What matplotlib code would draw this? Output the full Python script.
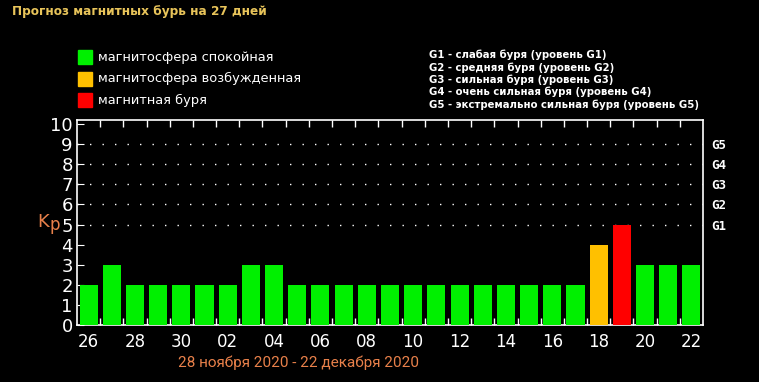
import matplotlib
matplotlib.use("Agg")
import matplotlib.pyplot as plt
import numpy as np

days = ["26", "27", "28", "29", "30", "01", "02", "03", "04", "05", "06", "07", "08", "09",
        "10", "11", "12", "13", "14", "15", "16", "17", "18", "19", "20", "21", "22"]
kp = [2, 3, 2, 2, 2, 2, 2, 3, 3, 2, 2, 2, 2, 2, 2, 2, 2, 2, 2, 2, 2, 2, 4, 5, 3, 3, 3]
g_levels = ["G1", "G2", "G3", "G4", "G5"]
g_texts = ["G1 - слабая буря (уровень G1)",
           "G2 - средняя буря (уровень G2)",
           "G3 - сильная буря (уровень G3)",
           "G4 - очень сильная буря (уровень G4)",
           "G5 - экстремально сильная буря (уровень G5)"]
legend_labels = ["магнитосфера спокойная", "магнитосфера возбужденная", "магнитная буря"]

green, orange, red = "#00f000", "#ffc000", "#ff0000"
legend_colors = [green, orange, red]

def bar_color(v):
    if v >= 5:
        return red
    if v == 4:
        return orange
    return green

fig = plt.figure(figsize=(7.59, 3.82), dpi=100, facecolor="black")
ax = fig.add_axes([77 / 759, 57 / 382, 626 / 759, 205 / 382])
ax.set_facecolor("black")

x = np.arange(len(kp))
ax.bar(x, kp, width=0.78, color=[bar_color(v) for v in kp], zorder=3)
ax.set_xlim(-0.5, len(kp) - 0.5)
ax.set_ylim(0, 10.2)

for s in ax.spines.values():
    s.set_color("white")
    s.set_linewidth(1.2)

# dotted grid at storm levels
for lev in range(5, 10):
    ax.axhline(lev, color="white", linestyle=(0, (1, 8)), linewidth=1, zorder=1)

ax.set_xticks(x[::2])
ax.set_xticklabels(days[::2], color="white", fontsize=12)
ax.set_xticks(np.arange(0.5, len(kp) - 1, 1), minor=True)
ax.tick_params(axis="x", which="major", length=0, pad=6)
ax.tick_params(axis="x", which="minor", direction="in", length=5, color="white",
               top=True, bottom=True, width=1)

ax.set_yticks(range(0, 11))
ax.set_yticklabels([str(i) for i in range(0, 11)], color="white", fontsize=13)
ax.tick_params(axis="y", which="major", length=0, pad=3)
ax.tick_params(axis="y", right=True, direction="in", length=5, color="white")

ax2 = ax.twinx()
ax2.set_ylim(ax.get_ylim())
ax2.set_yticks(range(5, 10))
ax2.set_yticklabels(g_levels, color="white", fontsize=9, fontweight="bold",
                    family="DejaVu Sans Mono")
ax2.tick_params(axis="y", length=0, pad=6)
for s in ax2.spines.values():
    s.set_visible(False)

fig.text(12 / 759, 1 - 12 / 382, "Прогноз магнитных бурь на 27 дней", color="#e8c45a",
         fontsize=8.7, fontweight="bold", va="center", ha="left")

for i, (lab, col) in enumerate(zip(legend_labels, legend_colors)):
    yc = 57 + i * 21.5
    fig.patches.append(plt.Rectangle((78 / 759, 1 - (yc + 7) / 382), 14 / 759, 14 / 382,
                                     transform=fig.transFigure, color=col))
    fig.text(98 / 759, 1 - yc / 382, lab, color="white", fontsize=9.4,
             va="center", ha="left")

for i, t in enumerate(g_texts):
    fig.text(429 / 759, 1 - (55 + i * 12.4) / 382, t, color="white", fontsize=7.3,
             fontweight="bold", va="center", ha="left")

fig.text(37 / 759, 1 - 222 / 382, "K", color="#e8804a", fontsize=13, va="center", ha="left")
fig.text(49 / 759, 1 - 225 / 382, "p", color="#e8804a", fontsize=12, va="center", ha="left")

fig.text(298 / 759, 1 - 363 / 382, "28 ноября 2020 - 22 декабря 2020", color="#e8804a",
         fontsize=11, va="center", ha="center", family=["Roboto", "DejaVu Sans"])

fig.savefig("out.png", dpi=100, facecolor="black")
